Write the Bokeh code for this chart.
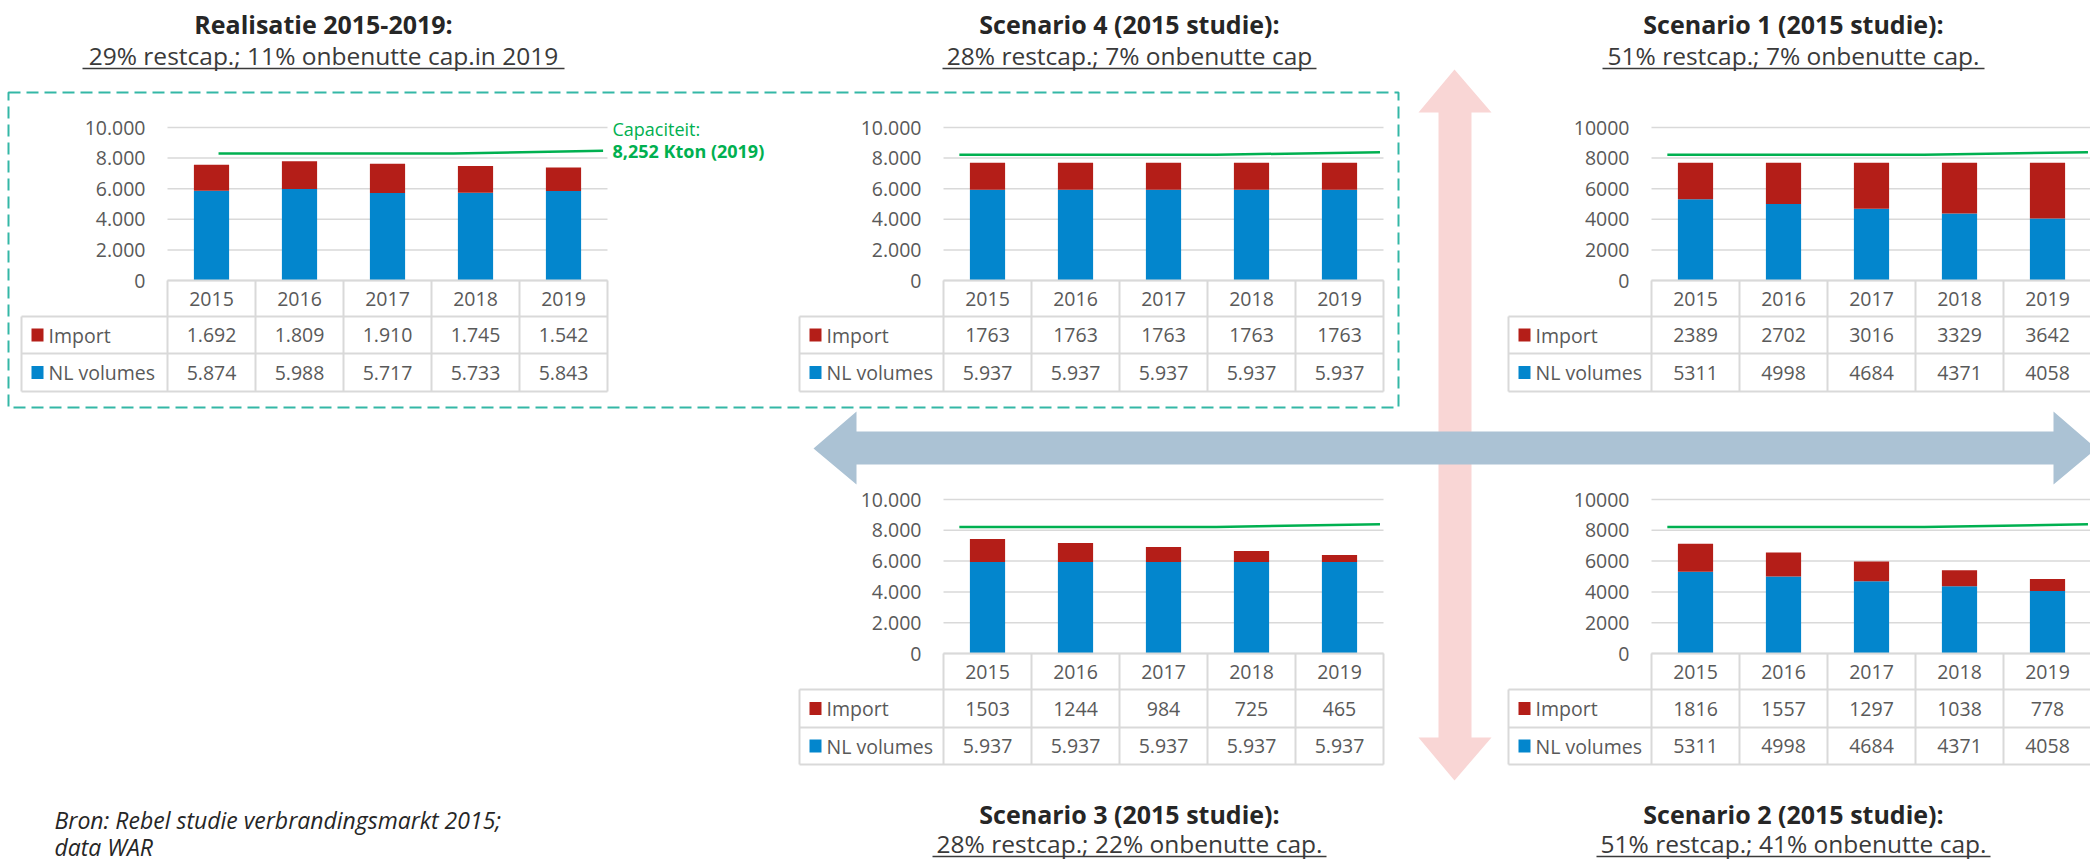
from bokeh.plotting import figure
from bokeh.models import Range1d, ColumnDataSource
from bokeh.core.properties import value
from bokeh.embed import file_html
from bokeh.resources import INLINE

# ---------------- data ----------------
years = ["2015", "2016", "2017", "2018", "2019"]
y_ticks = [0, 2000, 4000, 6000, 8000, 10000]

real_import = [1692, 1809, 1910, 1745, 1542]
real_nl = [5874, 5988, 5717, 5733, 5843]
s4_import = [1763, 1763, 1763, 1763, 1763]
s4_nl = [5937, 5937, 5937, 5937, 5937]
s1_import = [2389, 2702, 3016, 3329, 3642]
s1_nl = [5311, 4998, 4684, 4371, 4058]
s3_import = [1503, 1244, 984, 725, 465]
s3_nl = [5937, 5937, 5937, 5937, 5937]
s2_import = [1816, 1557, 1297, 1038, 778]
s2_nl = [5311, 4998, 4684, 4371, 4058]

# capacity line (x in year-index units, y in kton)
cap_x_real = [0.08, 2.75, 4.45]
cap_y_real = [8300, 8300, 8480]
cap_x_scen = [-0.32, 2.6, 4.46]
cap_y_scen = [8220, 8220, 8390]

row_labels = ["Import", "NL volumes"]
cap_label_1 = "Capaciteit:"
cap_label_2 = "8,252 Kton (2019)"
footnote = ["Bron: Rebel studie verbrandingsmarkt 2015;", "data WAR"]

# ---------------- style ----------------
FONT = value("Open Sans")
BLUE = "#0386CD"
RED = "#B41E18"
GREEN = "#00B050"
GRID = "#D9D9D9"
TXT = "#595959"
TEAL = "#34B7A6"
ARROW_BLUE = "#ABC2D4"
ARROW_PINK = "#F9D6D5"

W, H = 2090, 861
p = figure(width=W, height=H, x_range=Range1d(0, W), y_range=Range1d(H, 0),
           output_backend="svg", toolbar_location=None, min_border=0,
           x_axis_location=None, y_axis_location=None, title=None,
           background_fill_color="white", border_fill_color="white")
p.outline_line_color = None
p.grid.visible = False

panels = [
    dict(key="real", title="Realisatie 2015-2019:", sub="29% restcap.; 11% onbenutte cap.in 2019",
         imp=real_import, nl=real_nl, tick_dot=True, imp_dot=True, nl_dot=True,
         cx=cap_x_real, cy=cap_y_real,
         plot_left=167, y0=280, y10k=127, table_left=21, rows=[280, 316, 353, 391],
         tcx=323, ty=23, sy=55, uy=68, uhw=241),
    dict(key="s4", title="Scenario 4 (2015 studie):", sub="28% restcap.; 7% onbenutte cap",
         imp=s4_import, nl=s4_nl, tick_dot=True, imp_dot=False, nl_dot=True,
         cx=cap_x_scen, cy=cap_y_scen,
         plot_left=943, y0=280, y10k=127, table_left=799, rows=[280, 316, 353, 391],
         tcx=1129, ty=23, sy=55, uy=68, uhw=187),
    dict(key="s1", title="Scenario 1 (2015 studie):", sub="51% restcap.; 7% onbenutte cap.",
         imp=s1_import, nl=s1_nl, tick_dot=False, imp_dot=False, nl_dot=False,
         cx=cap_x_scen, cy=cap_y_scen,
         plot_left=1651, y0=280, y10k=127, table_left=1508, rows=[280, 316, 353, 391],
         tcx=1793, ty=23, sy=55, uy=68, uhw=191),
    dict(key="s3", title="Scenario 3 (2015 studie):", sub="28% restcap.; 22% onbenutte cap.",
         imp=s3_import, nl=s3_nl, tick_dot=True, imp_dot=False, nl_dot=True,
         cx=cap_x_scen, cy=cap_y_scen,
         plot_left=943, y0=653, y10k=499, table_left=799, rows=[653, 689, 727, 764],
         tcx=1129, ty=813, sy=843, uy=856, uhw=197),
    dict(key="s2", title="Scenario 2 (2015 studie):", sub="51% restcap.; 41% onbenutte cap.",
         imp=s2_import, nl=s2_nl, tick_dot=False, imp_dot=False, nl_dot=False,
         cx=cap_x_scen, cy=cap_y_scen,
         plot_left=1651, y0=653, y10k=499, table_left=1508, rows=[653, 689, 727, 764],
         tcx=1793, ty=813, sy=843, uy=856, uhw=197),
]

COL = 88.0
xr_all, yr_all = {}, {}
for pn in panels:
    c0 = pn["plot_left"] + COL / 2
    xs = (0 - c0) / COL
    xr_all[pn["key"] + "_x"] = Range1d(xs, xs + W / COL)
    ppu = (pn["y0"] - pn["y10k"]) / 10000.0
    ys = (pn["y0"] - H) / ppu
    yr_all[pn["key"] + "_y"] = Range1d(ys, ys + H / ppu)
p.extra_x_ranges = xr_all
p.extra_y_ranges = yr_all


def fmt(v, dot):
    return f"{v:,}".replace(",", ".") if dot else str(v)


# ---------------- decorations: dashed box and arrows ----------------
p.quad(left=[8], right=[1398], top=[92], bottom=[407], fill_color=None,
       line_color=TEAL, line_width=2, line_dash="12 6")

p.patch(x=[1454, 1491, 1471, 1471, 1491, 1454, 1418, 1438, 1438, 1418],
        y=[69, 112, 112, 737, 737, 780, 737, 737, 112, 112],
        fill_color=ARROW_PINK, line_color=None)
p.patch(x=[813, 856, 856, 2053, 2053, 2096, 2053, 2053, 856, 856],
        y=[448, 411, 431, 431, 411, 448, 484, 464, 464, 484],
        fill_color=ARROW_BLUE, line_color=None)

# ---------------- panels ----------------
for pn in panels:
    xr, yr = pn["key"] + "_x", pn["key"] + "_y"
    idx = list(range(len(years)))
    tot = [a + b for a, b in zip(pn["nl"], pn["imp"])]
    src = ColumnDataSource(dict(x=idx, nl=pn["nl"], imp=pn["imp"], tot=tot))

    # gridlines
    p.segment(x0=[-0.5] * len(y_ticks), x1=[4.5] * len(y_ticks), y0=y_ticks, y1=y_ticks,
              line_color=GRID, line_width=1.5, x_range_name=xr, y_range_name=yr)
    # stacked bars
    p.vbar(x="x", bottom=0, top="nl", width=0.4, source=src, fill_color=BLUE,
           line_color=None, x_range_name=xr, y_range_name=yr)
    p.vbar(x="x", bottom="nl", top="tot", width=0.4, source=src, fill_color=RED,
           line_color=None, x_range_name=xr, y_range_name=yr)
    # capacity line
    p.line(x=pn["cx"], y=pn["cy"], line_color=GREEN, line_width=2.5,
           x_range_name=xr, y_range_name=yr)
    # y tick labels
    p.text(x=[pn["plot_left"] - 22] * len(y_ticks), y=y_ticks,
           text=[fmt(t, pn["tick_dot"]) for t in y_ticks],
           text_font=FONT, text_font_size="19.5px", text_color=TXT,
           text_align="right", text_baseline="middle", y_range_name=yr)

    # data table
    r0, r1, r2, r3 = pn["rows"]
    lab_left = (pn["table_left"] - pn["plot_left"] - COL / 2) / COL
    p.segment(x0=[-0.5, lab_left, lab_left, lab_left], x1=[4.5, 4.5, 4.5, 4.5],
              y0=[r0, r1, r2, r3], y1=[r0, r1, r2, r3],
              line_color=GRID, line_width=2, x_range_name=xr)
    vx = [lab_left] + [k - 0.5 for k in range(6)]
    vy0 = [r1] + [r0] * 6
    p.segment(x0=vx, x1=vx, y0=vy0, y1=[r3] * 7, line_color=GRID, line_width=2,
              x_range_name=xr)
    p.text(x=idx, y=[(r0 + r1) / 2] * 5, text=years, text_font=FONT,
           text_font_size="19.5px", text_color=TXT, text_align="center",
           text_baseline="middle", x_range_name=xr)
    p.text(x=idx, y=[(r1 + r2) / 2] * 5, text=[fmt(v, pn["imp_dot"]) for v in pn["imp"]],
           text_font=FONT, text_font_size="19.5px", text_color=TXT, text_align="center",
           text_baseline="middle", x_range_name=xr)
    p.text(x=idx, y=[(r2 + r3) / 2] * 5, text=[fmt(v, pn["nl_dot"]) for v in pn["nl"]],
           text_font=FONT, text_font_size="19.5px", text_color=TXT, text_align="center",
           text_baseline="middle", x_range_name=xr)
    # legend keys inside table
    tl = pn["table_left"]
    p.rect(x=[tl + 16, tl + 16], y=[(r1 + r2) / 2, (r2 + r3) / 2], width=12, height=13,
           width_units="screen", height_units="screen", fill_color=[RED, BLUE],
           line_color=None)
    p.text(x=[tl + 27, tl + 27], y=[(r1 + r2) / 2, (r2 + r3) / 2], text=row_labels,
           text_font=FONT, text_font_size="19.5px", text_color=TXT, text_align="left",
           text_baseline="middle")

    # titles
    p.text(x=[pn["tcx"]], y=[pn["ty"]], text=[pn["title"]], text_font=FONT,
           text_font_size="25px", text_font_style="bold", text_color="#262626",
           text_align="center", text_baseline="middle")
    p.text(x=[pn["tcx"]], y=[pn["sy"]], text=[pn["sub"]], text_font=FONT,
           text_font_size="24.5px", text_color="#3A3A3A",
           text_align="center", text_baseline="middle")
    p.segment(x0=[pn["tcx"] - pn["uhw"]], x1=[pn["tcx"] + pn["uhw"]],
              y0=[pn["uy"]], y1=[pn["uy"]], line_color="#3A3A3A", line_width=1.5)

# capacity label
p.text(x=[612], y=[128], text=[cap_label_1], text_font=FONT, text_font_size="18px",
       text_color=GREEN, text_align="left", text_baseline="middle")
p.text(x=[612], y=[150], text=[cap_label_2], text_font=FONT, text_font_size="18px",
       text_font_style="bold", text_color=GREEN, text_align="left", text_baseline="middle")

# footnote
p.text(x=[54, 54], y=[819, 846], text=footnote, text_font=FONT, text_font_size="23px",
       text_font_style="italic", text_color="#262626", text_align="left",
       text_baseline="middle")

open("out.html", "w").write(file_html(p, INLINE))
